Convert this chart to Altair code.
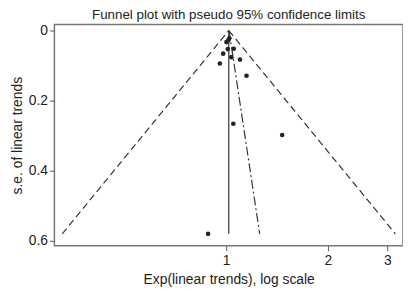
import altair as alt
import pandas as pd

# study points: exp(trend) and s.e.
pt_x = [1.022, 1.015, 1.002, 1.053, 1.011, 0.980, 1.036, 1.099, 0.958, 1.149, 1.050, 1.465, 0.884]
pt_se = [0.022, 0.028, 0.033, 0.052, 0.053, 0.066, 0.076, 0.083, 0.094, 0.129, 0.266, 0.298, 0.580]

# pooled estimate line
pooled_x = [1.018, 1.018]
pooled_se = [0.0, 0.58]

# pseudo 95% limits (left and right)
left_x = [1.018, 0.327]
right_x = [1.018, 3.17]
limit_se = [0.0, 0.58]

# regression (dash-dot) line
reg_x = [1.02, 1.257]
reg_se = [0.0, 0.58]

font = "Liberation Sans"
xsc = alt.Scale(type="log", domain=[0.31, 3.34], nice=False)
ysc = alt.Scale(domain=[-0.017, 0.614], reverse=True, nice=False, zero=False)

xax = alt.Axis(values=[1, 2, 3], format="~g", title="Exp(linear trends), log scale",
               grid=False, domain=False, tickColor="#555", tickSize=5, labelFontSize=14,
               labelColor="#222", titleFontSize=14, titleColor="#222", titleFontWeight="normal",
               labelFont=font, titleFont=font, labelPadding=3, titlePadding=5)
yax = alt.Axis(values=[0, 0.2, 0.4, 0.6], format="~g", title="s.e. of linear trends",
               grid=False, domain=False, tickColor="#555", tickSize=5, labelFontSize=14,
               labelColor="#222", titleFontSize=14, titleColor="#222", titleFontWeight="normal",
               labelFont=font, titleFont=font, labelPadding=2, titlePadding=4)

pts = pd.DataFrame({"x": pt_x, "se": pt_se})
pooled = pd.DataFrame({"x": pooled_x, "se": pooled_se})
left = pd.DataFrame({"x": left_x, "se": limit_se})
right = pd.DataFrame({"x": right_x, "se": limit_se})
reg = pd.DataFrame({"x": reg_x, "se": reg_se})

def line(df, dash):
    kw = dict(color="#333", strokeWidth=1.2)
    if dash:
        kw["strokeDash"] = dash
    return alt.Chart(df).mark_line(**kw).encode(
        x=alt.X("x:Q", scale=xsc, axis=xax),
        y=alt.Y("se:Q", scale=ysc, axis=yax),
    )

points = alt.Chart(pts).mark_circle(color="#222", size=22, opacity=1).encode(
    x=alt.X("x:Q", scale=xsc, axis=xax),
    y=alt.Y("se:Q", scale=ysc, axis=yax),
)

chart = alt.layer(
    line(left, [7, 4]),
    line(right, [7, 4]),
    line(reg, [9, 3, 2, 3]),
    line(pooled, None),
    points,
).properties(
    width=353, height=224,
    title=alt.TitleParams("Funnel plot with pseudo 95% confidence limits", font=font,
                          fontSize=13.5, fontWeight="normal", color="#222", offset=2),
    autosize=alt.AutoSizeParams(type="none"),
    padding={"left": 47, "top": 15, "right": 0, "bottom": 42},
).configure_view(stroke="#777", strokeWidth=1.5)

chart.save("out.html", embed_options={"renderer": "svg", "actions": False})
